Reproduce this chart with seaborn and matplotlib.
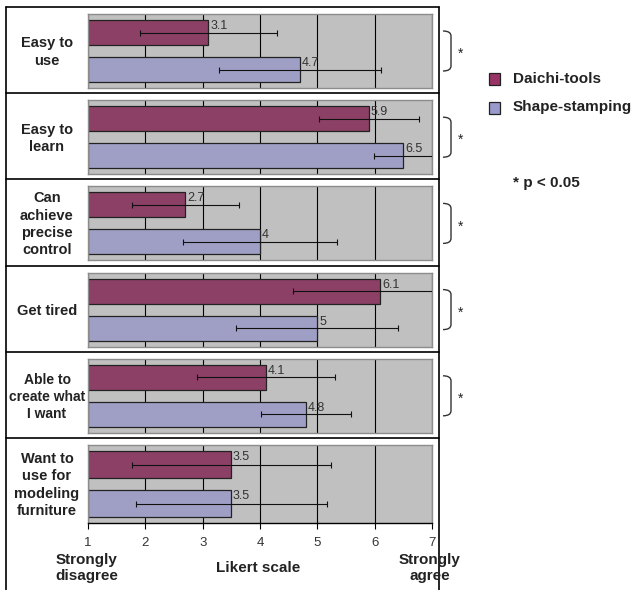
import matplotlib
matplotlib.use("Agg")
import matplotlib.pyplot as plt
import matplotlib.transforms as mtransforms
from matplotlib.path import Path
from matplotlib.patches import PathPatch, Rectangle
from matplotlib.lines import Line2D
import pandas as pd
import seaborn as sns

# ---- survey results (7-point Likert scale) ----
questions = ["Easy to\nuse", "Easy to\nlearn", "Can\nachieve\nprecise\ncontrol",
             "Get tired", "Able to\ncreate what\nI want",
             "Want to\nuse for\nmodeling\nfurniture"]
tools = ["Daichi-tools", "Shape-stamping"]
daichi_mean = [3.1, 5.9, 2.7, 6.1, 4.1, 3.5]
shape_mean = [4.7, 6.5, 4.0, 5.0, 4.8, 3.5]
daichi_sd = [1.2, 0.87, 0.94, 1.52, 1.2, 1.73]
shape_sd = [1.41, 0.52, 1.34, 1.41, 0.79, 1.66]
significant = [True, True, True, True, True, False]
likert_ticks = [1, 2, 3, 4, 5, 6, 7]

palette = {"Daichi-tools": "#993366", "Shape-stamping": "#9999CC"}

rows = []
for q, dm, sm, ds, ss in zip(questions, daichi_mean, shape_mean, daichi_sd, shape_sd):
    rows.append({"question": q, "tool": tools[0], "score": dm, "sd": ds})
    rows.append({"question": q, "tool": tools[1], "score": sm, "sd": ss})
df = pd.DataFrame(rows)

sns.set_theme(style="white")
plt.rcParams["font.family"] = ["Liberation Sans", "DejaVu Sans"]

W, H = 636, 590
fig = plt.figure(figsize=(W / 100, H / 100), dpi=100)
# pixel coordinates measured from the top-left corner
px = mtransforms.Affine2D().scale(1 / W, -1 / H).translate(0, 1) + fig.transFigure

x_left, x_right = 88, 432
step = 86.2
ink = "#222222"

for k, q in enumerate(questions):
    top = 14 + step * k
    height = 78 if k == len(questions) - 1 else 74
    ax = fig.add_axes([x_left / W, 1 - (top + height) / H,
                       (x_right - x_left) / W, height / H])
    sub = df[df["question"] == q]
    sns.barplot(data=sub, x="score", y="tool", hue="tool", order=tools,
                palette=palette, orient="h", width=0.68, errorbar=None,
                edgecolor=ink, linewidth=0.9, legend=False, ax=ax)
    lo = likert_ticks[0]
    # bars grow from the bottom of the Likert scale
    for p in ax.patches:
        w = p.get_width()
        p.set_x(lo)
        p.set_width(w - lo)
    ax.errorbar(sub["score"], range(len(tools)), xerr=sub["sd"], fmt="none",
                ecolor="#111111", elinewidth=0.8, capsize=2.2, capthick=0.8,
                zorder=5)
    for i, (v, s) in enumerate(zip(sub["score"], sub["sd"])):
        ax.text(v + 0.03, i - 0.34, f"{v:g}", ha="left", va="top",
                fontsize=9, color="#333333", zorder=6)

    ax.set_facecolor("#C0C0C0")
    ax.set_xlim(likert_ticks[0], likert_ticks[-1])
    ax.set_ylim(1.5, -0.5)
    ax.set_xticks(likert_ticks)
    ax.set_yticks([])
    ax.grid(axis="x", color="black", linewidth=0.8)
    ax.set_axisbelow(True)
    ax.set_xlabel("")
    ax.set_ylabel("")
    for side in ["top", "right", "left", "bottom"]:
        ax.spines[side].set_color("#8C8C8C")
        ax.spines[side].set_linewidth(1.0)
    if k == len(questions) - 1:
        ax.spines["bottom"].set_color("black")
        ax.tick_params(axis="x", bottom=True, length=4, width=0.8,
                       color="black", labelsize=9.5, labelcolor="#333333", pad=6)
    else:
        ax.tick_params(axis="x", bottom=False, labelbottom=False)

    # question label
    fs = 10 if "create" in q else 10.5
    fig.text(47, top + height / 2 + 1, q, transform=px, ha="center", va="center",
             multialignment="center", fontsize=fs, fontweight="bold",
             linespacing=1.3, color=ink)

    # significance bracket
    if significant[k]:
        b0, b1 = top + 17, top + 57
        verts = [(443, b0), (451, b0), (451, b0 + 5), (451, b1 - 5),
                 (451, b1), (443, b1)]
        codes = [Path.MOVETO, Path.CURVE3, Path.CURVE3, Path.LINETO,
                 Path.CURVE3, Path.CURVE3]
        fig.patches.append(PathPatch(Path(verts, codes), transform=px,
                                     fill=False, edgecolor="#333333", lw=1.0))
        fig.text(461, (b0 + b1) / 2 + 3, "*", transform=px, ha="center",
                 va="center", fontsize=10, color=ink)

# outer frame and row separators
frame_kw = dict(transform=px, color="black", linewidth=1.2)
fig.lines.append(Line2D([5.5, 5.5], [7, H], **frame_kw))
fig.lines.append(Line2D([438.5, 438.5], [7, H], **frame_kw))
for k in range(len(questions)):
    y = 7 + step * k
    fig.lines.append(Line2D([5.5, 438.5], [y, y], **frame_kw))

# legend
for j, t in enumerate(tools):
    yy = 79 + 28.5 * j
    fig.patches.append(Rectangle((489, yy - 6), 11, 12, transform=px,
                                 facecolor=palette[t], edgecolor=ink, lw=0.9))
    fig.text(513, yy, t, transform=px, ha="left", va="center",
             fontsize=11, fontweight="bold", color=ink)
fig.text(513, 183, "* p < 0.05", transform=px, ha="left", va="center",
         fontsize=11, fontweight="bold", color=ink)

# axis captions
fig.text(87, 568, "Strongly\ndisagree", transform=px, ha="center", va="center",
         fontsize=11, fontweight="bold", linespacing=1.2, color=ink)
fig.text(258, 568, "Likert scale", transform=px, ha="center", va="center",
         fontsize=11, fontweight="bold", color=ink)
fig.text(430, 568, "Strongly\nagree", transform=px, ha="center", va="center",
         fontsize=11, fontweight="bold", linespacing=1.2, color=ink)

fig.savefig("out.png", dpi=100, facecolor="white")
